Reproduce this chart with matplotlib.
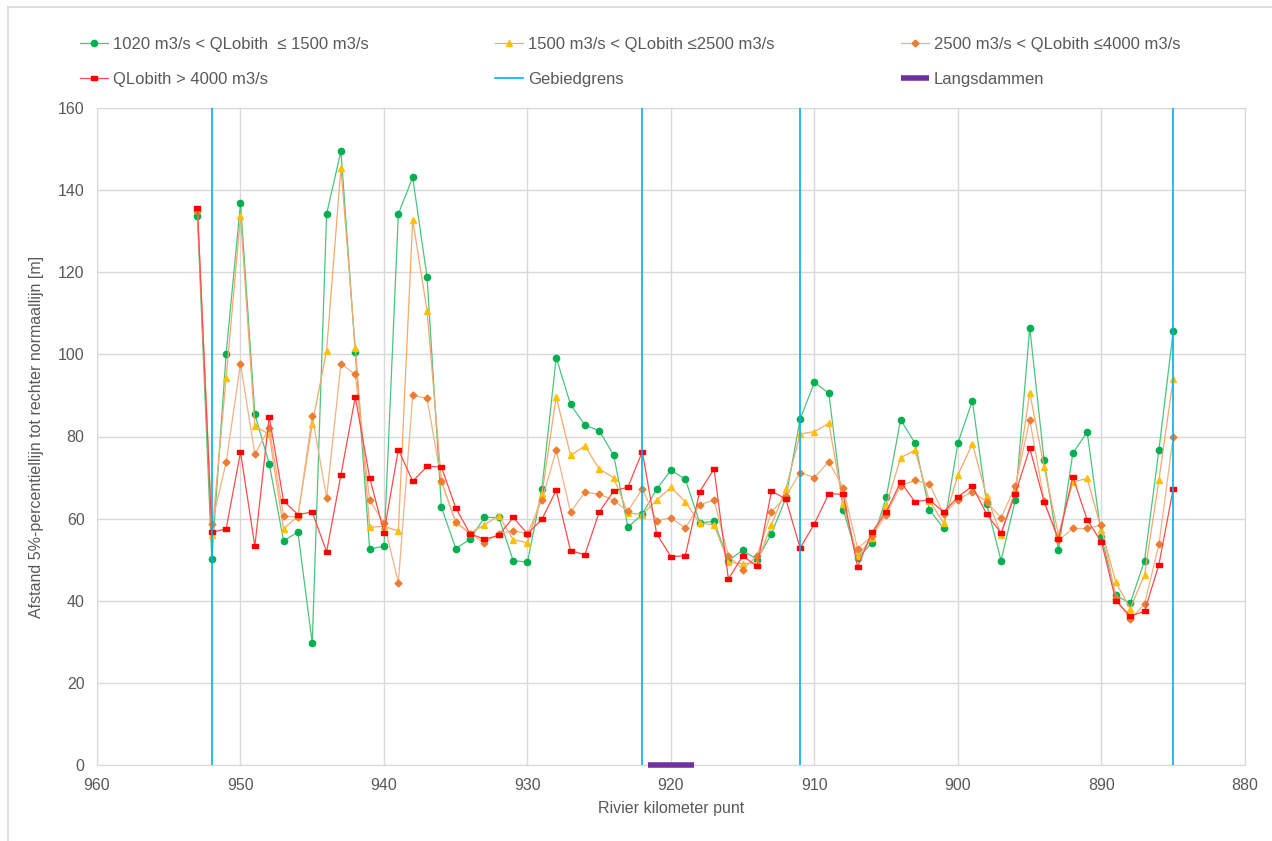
import matplotlib.pyplot as plt
from matplotlib.lines import Line2D

plt.rcParams['font.family'] = ['Liberation Sans', 'DejaVu Sans']

# rivierkilometers (953 .. 885)
km = list(range(953, 884, -1))

q_1020_1500 = [133.7, 50.1, 100.2, 136.8, 85.4, 73.4, 54.6, 56.7, 29.7, 134.2,
               149.5, 100.5, 52.6, 53.3, 134.2, 143.1, 118.8, 62.8, 52.7, 55.0,
               60.3, 60.3, 49.8, 49.4, 67.1, 99.2, 87.8, 82.8, 81.4, 75.5,
               57.9, 61.1, 67.2, 71.8, 69.6, 59.0, 59.3, 49.8, 52.3, 50.0,
               56.3, 65.0, 84.3, 93.2, 90.5, 62.2, 50.4, 54.1, 65.2, 84.1,
               78.4, 62.2, 57.6, 78.5, 88.7, 63.5, 49.8, 64.6, 106.5, 74.2,
               52.3, 75.9, 81.1, 55.5, 41.3, 39.4, 49.8, 76.7, 105.7]

q_1500_2500 = [135.2, 56.0, 94.3, 133.6, 82.6, 80.5, 57.5, 60.6, 83.0, 100.9,
               145.5, 101.5, 57.9, 58.1, 57.0, 132.8, 110.6, 69.1, 59.1, 56.5,
               58.5, 60.7, 54.9, 54.1, 65.9, 89.6, 75.4, 77.7, 72.1, 70.0,
               61.4, 61.0, 64.5, 67.6, 64.1, 58.9, 58.5, 49.4, 49.0, 49.3,
               58.5, 67.2, 80.6, 81.2, 83.2, 63.5, 50.8, 55.2, 63.2, 74.8,
               76.7, 64.4, 58.9, 70.7, 78.2, 65.4, 56.1, 67.1, 90.7, 72.6,
               56.1, 68.9, 69.8, 57.3, 44.5, 38.1, 46.3, 69.4, 94.1]

q_2500_4000 = [134.9, 58.8, 73.7, 97.7, 75.7, 82.1, 60.6, 60.4, 85.0, 65.1,
               97.7, 95.1, 64.5, 58.9, 44.4, 90.0, 89.3, 69.1, 59.1, 56.3,
               54.1, 56.3, 57.1, 56.3, 64.5, 76.6, 61.6, 66.4, 66.0, 64.4,
               61.8, 67.3, 59.5, 60.2, 57.7, 63.4, 64.5, 51.0, 47.6, 51.0,
               61.6, 65.4, 71.2, 70.0, 73.9, 67.5, 52.7, 55.7, 61.0, 68.0,
               69.3, 68.5, 61.1, 64.6, 66.6, 64.1, 60.2, 67.9, 84.1, 64.4,
               54.7, 57.6, 57.6, 58.4, 40.6, 35.5, 39.2, 53.7, 80.0]

q_4000 = [135.6, 56.7, 57.5, 76.2, 53.3, 84.8, 64.3, 61.0, 61.6, 51.9,
          70.7, 89.6, 70.0, 56.6, 76.8, 69.1, 72.7, 72.6, 62.6, 56.3,
          55.0, 55.9, 60.3, 56.3, 59.8, 66.9, 52.2, 51.2, 61.6, 66.7,
          67.7, 76.3, 56.3, 50.7, 51.0, 66.6, 72.1, 45.3, 50.9, 48.4,
          66.7, 64.8, 52.8, 58.8, 66.1, 65.9, 48.2, 56.7, 61.6, 68.9,
          64.1, 64.6, 61.6, 65.3, 67.9, 61.1, 56.5, 66.1, 77.2, 64.1,
          55.0, 70.2, 59.7, 54.3, 40.0, 36.3, 37.4, 48.8, 67.3]

gebiedgrens = [952, 922, 911, 885]
langsdammen = [921.6, 918.4]

text_grey = '#595959'
grid_grey = '#D9D9D9'
rect_marker = [(-1, -0.5), (1, -0.5), (1, 0.5), (-1, 0.5), (-1, -0.5)]

fig = plt.figure(figsize=(12.72, 8.41), dpi=100)
ax = fig.add_axes([97 / 1272, 1 - 765 / 841, (1245 - 97) / 1272, (765 - 108) / 841])

# rand om de grafiek
fig.add_artist(Line2D([8 / 1272, 1], [1 - 7 / 841, 1 - 7 / 841], color=grid_grey, lw=1.2))
fig.add_artist(Line2D([8 / 1272, 8 / 1272], [0, 1 - 7 / 841], color=grid_grey, lw=1.2))

l1, = ax.plot(km, q_1020_1500, color='#4CC47F', lw=0.9, marker='o', ms=4.5,
              mfc='#00B050', mec='#00B050', label='1020 m3/s < QLobith  \u2264 1500 m3/s')
l2, = ax.plot(km, q_1500_2500, color='#F5A96A', lw=0.9, marker='^', ms=4,
              mfc='#FFC000', mec='#FFC000', label='1500 m3/s < QLobith \u22642500 m3/s')
l3, = ax.plot(km, q_2500_4000, color='#F4B183', lw=0.9, marker='D', ms=3.5,
              mfc='#ED7D31', mec='#ED7D31', label='2500 m3/s < QLobith \u22644000 m3/s')
l4, = ax.plot(km, q_4000, color='#FF4B4B', lw=0.9, marker=rect_marker, ms=4.5,
              mfc='#FF0000', mec='#FF0000', label='QLobith > 4000 m3/s')

for g in gebiedgrens:
    ax.axvline(g, color='#00B0F0', lw=1.2, zorder=4)
l5 = Line2D([], [], color='#00B0F0', lw=1.2, label='Gebiedgrens')
l6, = ax.plot(langsdammen, [0, 0], color='#7030A0', lw=4, solid_capstyle='butt',
              zorder=5, clip_on=False, label='Langsdammen')

ax.set_xlim(960, 880)
ax.set_ylim(0, 160)
ax.set_xticks(range(960, 879, -10))
ax.set_yticks(range(0, 161, 20))
ax.grid(True, color=grid_grey, lw=1)
ax.set_axisbelow(True)
for s in ax.spines.values():
    s.set_color(grid_grey)
ax.tick_params(length=0, labelsize=11.5, colors=text_grey, pad=9)

ax.set_xlabel('Rivier kilometer punt', fontsize=11.5, color=text_grey, labelpad=6)
ax.set_ylabel('Afstand 5%-percentiellijn tot rechter normaallijn [m]',
              fontsize=11.5, color=text_grey, labelpad=10)

handles = [l1, l4, l2, l5, l3, l6]
fig.legend(handles=handles, labels=[h.get_label() for h in handles], ncol=3,
           loc='upper left', bbox_to_anchor=(73 / 1272, 1 - 90 / 841, 1114 / 1272, 60 / 841),
           mode='expand', frameon=False, fontsize=12, labelcolor=text_grey,
           handlelength=1.7, handletextpad=0.3, labelspacing=1.2, borderaxespad=0)

fig.savefig('out.png', dpi=100)
